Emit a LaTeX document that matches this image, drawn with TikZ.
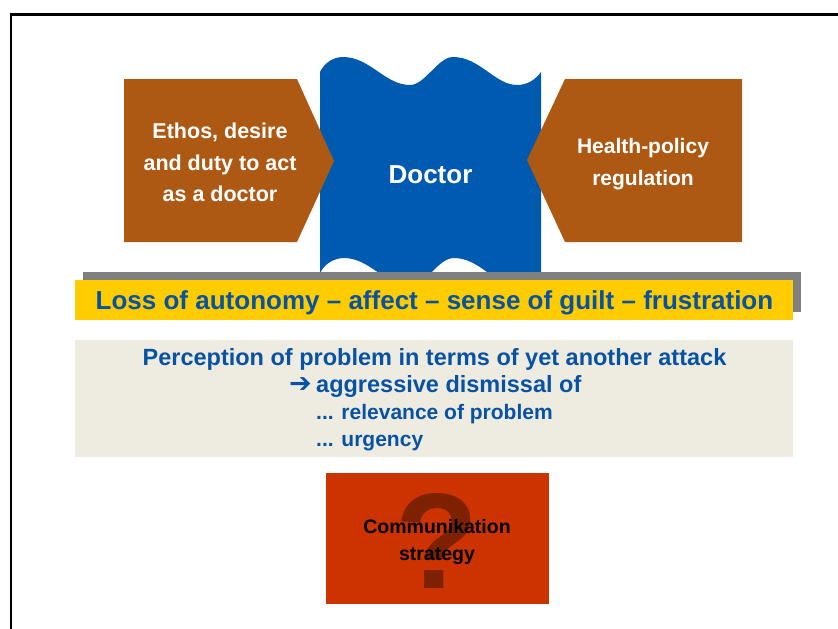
\documentclass[tikz,border=0pt]{standalone}
\usepackage{fontspec}
\setmainfont{Liberation Sans}
\newfontfamily\dejavu{DejaVu Sans}
\definecolor{rustbrown}{RGB}{173,89,20}
\definecolor{doctorblue}{RGB}{0,90,176}
\definecolor{textblue}{RGB}{8,82,164}
\definecolor{shadowgray}{RGB}{128,128,128}
\definecolor{baryellow}{RGB}{255,204,0}
\definecolor{palebeige}{RGB}{238,236,225}
\definecolor{signalred}{RGB}{204,51,0}
\definecolor{darkrust}{RGB}{125,33,0}
\usetikzlibrary{positioning}

\begin{document}
\begin{tikzpicture}[
                x=1pt, y=-1pt,
                line join=bevel,
                pentbox/.style={fill=rustbrown, draw=none},
                whitetext/.style={text=white, inner sep=0pt, align=center},
                bluetext/.style={text=textblue, inner sep=0pt}
            ]
                \useasboundingbox (0,0) rectangle (838,629);

                % Frame
                \draw[line width=2.5pt] (10,14.5) -- (838,14.5);
                \draw[line width=2.5pt] (11,14) -- (11,629);

                % Doctor shape
                \fill[doctorblue] (320,72) .. controls (325,62) and (334,57) .. (343,57)
                    .. controls (370,57) and (385,85) .. (410,85)
                    .. controls (425,85) and (438,57) .. (453,57)
                    .. controls (480,57) and (495,85) .. (517,85)
                    .. controls (528,85) and (536,79) .. (541,72)
                    -- (541,273)
                    .. controls (536,280) and (528,286) .. (517,286)
                    .. controls (495,286) and (480,258) .. (454,258)
                    .. controls (438,258) and (425,286) .. (411,286)
                    .. controls (385,286) and (370,258) .. (344,258)
                    .. controls (335,258) and (325,263) .. (320,273) -- cycle;
                \node[whitetext, anchor=base, font=\fontsize{26}{30}\selectfont\bfseries] (doctor) at (430.5,183) {Doctor};

                % Side arrows
                \fill[pentbox] (124,79) -- (297,79) -- (334,161) -- (297,242) -- (124,242) -- cycle;
                \node[whitetext, font=\fontsize{21.5}{31.5}\selectfont\bfseries] (ethos) at (220,162.5) {Ethos, desire\\and duty to act\\as a doctor};
                \fill[pentbox] (742,79) -- (565,79) -- (527,160) -- (565,242) -- (742,242) -- cycle;
                \node[whitetext, font=\fontsize{21}{32}\selectfont\bfseries] (policy) at (643,164.5) {Health-policy\\regulation};

                % Loss bar
                \fill[shadowgray] (83,272) rectangle (801,312);
                \fill[baryellow] (75,280) rectangle (793,320);
                \node[bluetext, anchor=base, font=\fontsize{26}{30}\selectfont\bfseries] (loss) at (434.5,309) {Loss of autonomy -- affect -- sense of guilt -- frustration};

                % Perception box
                \fill[palebeige] (75,340) rectangle (793,457);
                \node[bluetext, anchor=base, font=\fontsize{23.5}{28}\selectfont\bfseries] (percep) at (434.5,365) {Perception of problem in terms of yet another attack};
                \node[bluetext, anchor=base west, font=\fontsize{23.5}{28}\selectfont\bfseries] (aggr) at (316,392) {aggressive dismissal of};
                \node[bluetext, base left=4pt of aggr, font=\fontsize{27}{30}\selectfont\dejavu\bfseries] (pointer) {➔};
                \node[bluetext, anchor=base west, font=\fontsize{21}{25}\selectfont\bfseries] (relev) at (316,419) {... relevance of problem};
                \node[bluetext, anchor=base west, font=\fontsize{21}{25}\selectfont\bfseries] (urgency) at (316,446) {... urgency};

                % Strategy box
                \fill[signalred] (326,473) rectangle (549,604);
                \node[text=darkrust, inner sep=0pt, anchor=base, font=\fontsize{136}{140}\selectfont\bfseries] (query) at (437,588) {?};
                \node[inner sep=0pt, align=center, font=\fontsize{19.5}{27}\selectfont\bfseries] (strategy) at (437,541.5) {Communikation\\strategy};
            \end{tikzpicture}
\end{document}
